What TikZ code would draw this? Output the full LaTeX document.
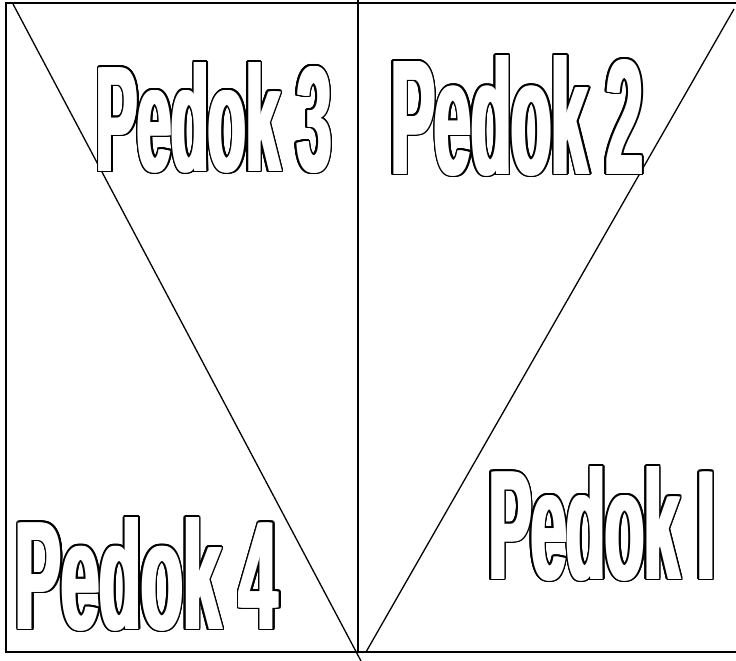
\documentclass[tikz,border=0pt]{standalone}
\usepackage{fontspec}
\setmainfont{Liberation Sans}
\usepackage{graphicx}
\tikzset{
  frame/.style={line width=1.6pt, black},
  diag/.style={line width=1.3pt, black},
  txt/.style={inner sep=0pt, outer sep=0pt, text=black, font=\bfseries\fontsize{100}{100}\selectfont},
}
\newcommand\pedoktext[6]{%
  \foreach \dx in {-2,0,2}{%
    \foreach \ang in {0,20,...,340}{%
      \node[txt] at ([shift={(\ang:1.6)},xshift=\dx pt]#2,#3) {\resizebox{#4pt}{#5pt}{#6}};}}
  \foreach \dx in {-2,-1,1,2}{%
    \node[txt,text=white] at ([xshift=\dx pt]#2,#3) {\resizebox{#4pt}{#5pt}{#6}};}
  \node[txt,text=white] (#1) at (#2,#3) {\resizebox{#4pt}{#5pt}{#6}};
}
\begin{document}
\begin{tikzpicture}[x=1pt,y=-1pt]
\useasboundingbox (0,0) rectangle (736,661);
\fill[white] (0,0) rectangle (736,661);
% frame
\coordinate (tl) at (6,3);
\coordinate (bl) at (6,652);
\coordinate (tr) at (737,3);
\coordinate (br) at (737,652);
\coordinate (mt) at (358,0);
\coordinate (mb) at (358,652);
\draw[frame] (tr) -- (tl) -- (bl) -- (br);
\draw[frame] (mt) -- (mb);
% diagonals
\coordinate (ld1) at (13,4);
\coordinate (ld2) at (361,661);
\coordinate (rd1) at (734,9);
\coordinate (rd2) at (366,652);
\draw[diag] (ld1) -- (ld2);
\draw[diag] (rd1) -- (rd2);
% labels
\pedoktext{p3}{214}{117.5}{234}{109}{Pedok 3}
\pedoktext{p2}{517}{115.5}{252}{119}{Pedok 2}
\pedoktext{p1}{602}{523.5}{226}{113}{Pedok I}
\pedoktext{p4}{147}{574}{262}{112}{Pedok 4}
\end{tikzpicture}
\end{document}
